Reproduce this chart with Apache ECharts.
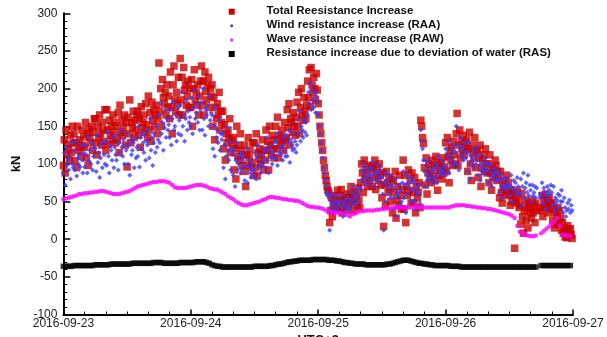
<!DOCTYPE html>
<html>
<head>
<meta charset="utf-8">
<script src="https://cdn.jsdelivr.net/npm/echarts@6/dist/echarts.min.js"></script>
<style>
  html, body { margin: 0; padding: 0; background: #fff; }
  #chart { width: 607px; height: 337px; }
</style>
</head>
<body>
<div id="chart"></div>
<script>
// Time axis runs in hours from 2016-09-23 00:00 (UTC+9), one label per day.
const dayLabels = ['2016-09-23', '2016-09-24', '2016-09-25', '2016-09-26', '2016-09-27'];
const seriesNames = [
  'Total Reesistance Increase',
  'Wind resistance increase (RAA)',
  'Wave resistance increase (RAW)',
  'Resistance increase due to deviation of water (RAS)'
];

// Sampling interval of each record, in hours.
const totalStep = 1 / 6;
const windStep = 1 / 6;
const waveStep = 0.5;
const driftStep = 0.5;

// Total resistance increase, kN (10-minute records, 12 per row = 2 hours, null = no record)
const totalRes = [
  98, 132, 88, 145, 112, 126, 120, 105, 138, 115, 150, 128,
  140, 104, 128, 95, 150, 118, 132, 122, 110, 145, 125, 136,
  122, 155, 108, 140, 98, 146, 135, 128, 150, 118, 142, 160,
  160, 128, 112, 150, 135, 165, 140, 125, 155, 145, 130, 172,
  118, 172, 145, 126, 158, 138, 150, 132, 165, 142, 155, 128,
  150, 132, 168, 115, 178, 142, 158, 138, 148, 165, 125, 155,
  96, 162, 140, 185, 128, 155, 148, 170, 135, 158, 145, 165,
  170, 138, 160, 122, 176, 148, 155, 165, 142, 180, 152, 135,
  190, 145, 168, 130, 182, 158, 172, 150, 165, 178, 140, 160,
  234, 170, 200, 150, 212, 188, 180, 195, 165, 205, 175, 190,
  160, 222, 176, 140, 205, 230, 185, 170, 195, 180, 215, 165,
  240, 185, 215, 165, 228, 198, 205, 178, 190, 210, 175, 200,
  175, 212, 150, 200, 225, 185, 195, 178, 205, 165, 190, 210,
  230, 178, 210, 165, 222, 196, 185, 205, 215, 175, 200, 190,
  205, 150, 188, 132, 175, 160, 180, 165, 195, 145, 170, 155,
  170, 120, 152, 105, 140, 128, 145, 135, 160, 115, 132, 125,
  135, 92, 120, 80, 150, 110, 125, 105, 140, 118, 98, 112,
  90, 125, 70, 112, 98, 135, 108, 118, 95, 102, 128, 85,
  128, 95, 140, 84, 115, 106, 120, 100, 112, 132, 92, 118,
  105, 145, 118, 130, 92, 150, 125, 112, 138, 120, 108, 132,
  150, 120, 162, 108, 138, 125, 135, 145, 128, 118, 155, 132,
  135, 172, 148, 180, 125, 160, 155, 142, 168, 150, 138, 162,
  182, 150, 195, 140, 175, 200, 165, 158, 188, 170, 160, 178,
  210, 188, 225, 176, 228, 205, 195, 215, 200, 185, 220, 198,
  180, 165, 150, 140, 128, 118, 105, 95, 85, 78, 70, 65,
  62, 22, 38, 55, 30, 48, 58, 45, 52, 40, 65, 50,
  40, 58, 66, 35, 52, 44, 48, 55, 38, 60, 45, 52,
  60, 70, 48, 55, 38, 62, 50, 58, 45, 68, 52, 42,
  75, 100, 88, 62, 105, 80, 92, 85, 70, 98, 78, 95,
  92, 70, 98, 82, 105, 66, 88, 95, 78, 100, 85, 72,
  55, 88, 17, 72, 45, 90, 75, 62, 82, 68, 50, 80,
  35, 78, 62, 90, 28, 52, 70, 45, 85, 58, 40, 66,
  105, 40, 85, 22, 70, 58, 92, 65, 78, 48, 88, 62,
  48, 82, 35, 70, 55, 62, 75, 42, 158, 150, 135, 127,
  95, 72, 108, 60, 88, 100, 82, 92, 75, 105, 85, 98,
  78, 110, 95, 65, 102, 85, 92, 100, 80, 108, 88, 96,
  128, 90, 135, 110, 75, 118, 105, 122, 98, 130, 112, 100,
  140, 167, 98, 125, 145, 108, 130, 118, 138, 112, 128, 122,
  132, 90, 120, 142, 100, 78, 115, 125, 108, 135, 95, 118,
  118, 82, 108, 125, 70, 95, 105, 112, 90, 120, 100, 88,
  100, 75, 112, 88, 65, 95, 92, 82, 105, 98, 78, 90,
  82, 55, 90, 62, 48, 72, 68, 78, 58, 85, 65, 75,
  60, 45, 66, 50, 58, 62, -12, 52, 48, 65, 55, 42,
  45, 20, 61, 30, 8, 38, 52, 25, 42, 15, 48, 35,
  40, 28, 52, 35, 45, 22, 48, 38, null, null, null, 42,
  38, 58, 30, 50, 42, 60, 45, 52, 35, 55, 40, 48,
  48, 25, 40, 15, 35, 20, 30, 42, 22, 38, 28, 12,
  22, 8, 15, 3, 10, 2, 18, 12, 5, 14, 6, 1
];

// Wind resistance increase (RAA), kN (10-minute records, 12 per row = 2 hours)
const windRes = [
  88, 115, 72, 122, 98, 105, 92, 110, 80, 128, 100, 95,
  118, 92, 130, 84, 108, 100, 112, 96, 125, 105, 88, 115,
  96, 125, 112, 88, 135, 104, 118, 100, 128, 92, 110, 122,
  120, 90, 138, 102, 115, 82, 108, 125, 95, 130, 112, 100,
  130, 98, 142, 110, 88, 125, 118, 105, 135, 95, 122, 112,
  105, 138, 92, 128, 115, 145, 122, 110, 132, 100, 125, 118,
  140, 100, 125, 85, 132, 112, 118, 128, 95, 135, 108, 122,
  110, 150, 96, 135, 120, 142, 128, 115, 138, 105, 130, 125,
  145, 108, 160, 118, 135, 98, 128, 140, 115, 150, 122, 132,
  165, 128, 180, 140, 155, 118, 148, 170, 135, 160, 145, 152,
  135, 172, 125, 160, 182, 145, 150, 165, 130, 175, 140, 158,
  178, 138, 195, 150, 165, 130, 160, 185, 145, 170, 155, 162,
  150, 188, 140, 175, 198, 160, 168, 180, 155, 190, 145, 172,
  182, 145, 200, 160, 138, 172, 165, 178, 150, 190, 158, 168,
  165, 120, 150, 110, 175, 135, 145, 128, 158, 118, 140, 132,
  140, 95, 125, 80, 110, 148, 118, 105, 130, 92, 120, 112,
  85, 118, 70, 105, 128, 92, 100, 110, 88, 115, 95, 105,
  110, 78, 98, 120, 75, 88, 95, 105, 82, 100, 92, 85,
  92, 115, 80, 108, 125, 95, 100, 88, 112, 98, 105, 118,
  120, 95, 135, 105, 88, 118, 110, 125, 100, 115, 108, 130,
  108, 130, 98, 140, 115, 122, 112, 125, 105, 135, 118, 110,
  138, 110, 128, 145, 102, 132, 125, 118, 140, 120, 130, 115,
  125, 158, 140, 170, 130, 150, 145, 135, 160, 142, 155, 138,
  165, 195, 180, 208, 172, 200, 185, 175, 195, 168, 190, 182,
  165, 150, 140, 128, 118, 108, 95, 88, 78, 70, 62, 58,
  55, 12, 42, 60, 48, 38, 52, 45, 58, 40, 50, 46,
  50, 35, 58, 42, 30, 48, 45, 52, 38, 55, 42, 48,
  40, 62, 52, 70, 45, 58, 55, 48, 65, 50, 60, 68,
  68, 92, 80, 100, 75, 88, 82, 95, 72, 90, 85, 78,
  95, 78, 102, 85, 70, 90, 88, 80, 98, 75, 92, 84,
  82, 60, 12, 75, 50, 88, 70, 78, 62, 85, 55, 72,
  68, 40, 55, 80, 30, 62, 58, 72, 45, 65, 50, 75,
  90, 55, 72, 35, 85, 60, 75, 68, 82, 50, 78, 65,
  50, 75, 40, 68, 58, 62, 72, 48, 145, 130, 120, 105,
  90, 70, 98, 78, 85, 105, 82, 92, 75, 88, 95, 80,
  82, 100, 75, 95, 110, 88, 92, 85, 105, 90, 98, 86,
  120, 95, 112, 130, 88, 105, 110, 118, 98, 125, 102, 115,
  150, 100, 125, 92, 118, 135, 110, 122, 105, 128, 115, 108,
  115, 90, 128, 100, 80, 110, 105, 118, 95, 112, 100, 122,
  105, 85, 112, 78, 98, 90, 95, 102, 88, 108, 92, 100,
  92, 75, 100, 82, 70, 88, 85, 95, 78, 90, 80, 88,
  78, 62, 85, 70, 55, 80, 72, 68, 82, 65, 75, 70,
  72, 58, 85, 50, 68, 78, 65, 75, 60, 82, 70, 62,
  60, 80, 45, 70, 88, 55, 68, 75, 62, 85, 58, 72,
  65, 50, 72, 58, 62, 70, 55, 68, null, null, null, 60,
  55, 75, 48, 68, 62, 40, 58, 70, 52, 65, 60, 72,
  62, 45, 70, 38, 55, 48, 52, 60, 42, 58, 50, 65,
  50, 35, 55, 42, 30, 38, 48, 40, 52, 35, 45, 38
];

// Wave resistance increase (RAW), kN (30-minute records)
const waveRes = [
  53, 54, 55, 56, 57, 58, 60, 60, 61, 61, 62, 62, 63, 63, 64, 64,
  63, 62, 61, 60, 60, 60, 61, 62, 63, 64, 66, 68, 70, 71, 72, 73,
  74, 75, 76, 76, 77, 77, 77, 76, 75, 72, 69, 68, 68, 68, 68, 69,
  70, 71, 72, 72, 72, 71, 70, 68, 67, 66, 66, 64, 62, 60, 57, 55,
  53, 50, 48, 46, 45, 45, 46, 47, 48, 49, 50, 52, 53, 55, 56, 56,
  55, 55, 54, 53, 53, 52, 52, 51, 51, 50, 48, 46, 44, 43, 43, 42,
  42, 41, 40, 38, 36, 35, 35, 35, 35, 34, 34, 32, 30, 33, 34, 36,
  37, 37, 38, 38, 38, 38, 39, 39, 40, 40, 41, 41, 42, 42, 42, 42,
  42, 42, 42, 42, 43, 43, 42, 42, 42, 42, 42, 42, 42, 42, 42, 42,
  42, 42, 43, 44, 45, 45, 45, 45, 44, 44, 43, 43, 42, 42, 41, 41,
  40, 40, 39, 38, 37, 36, 35, 34, 33, 31, 28, 18, 10, 8, 6, 5,
  4, 4, 5, null, 8, 11, 14, 17, 20, 24, 28, 18, 6, 5, 5, 4
];

// Resistance increase due to deviation of water (RAS), kN (30-minute records)
const driftRes = [
  -36, -36, -36, -36, -35, -35, -35, -35, -35, -35, -35, -35, -34, -34, -34, -34,
  -34, -34, -33, -33, -33, -33, -33, -33, -33, -33, -32, -32, -32, -32, -32, -32,
  -32, -32, -31, -31, -31, -31, -32, -32, -32, -32, -32, -32, -31, -31, -31, -31,
  -31, -31, -30, -30, -30, -30, -31, -32, -34, -35, -36, -36, -37, -37, -37, -37,
  -37, -37, -37, -37, -37, -37, -37, -37, -36, -36, -36, -36, -36, -36, -35, -35,
  -34, -33, -33, -32, -31, -30, -30, -29, -29, -28, -28, -28, -28, -28, -27, -27,
  -27, -27, -27, -27, -28, -28, -28, -29, -29, -30, -31, -31, -32, -32, -33, -33,
  -33, -33, -34, -34, -34, -34, -34, -34, -34, -34, -33, -33, -32, -31, -30, -29,
  -28, -28, -28, -29, -30, -31, -32, -32, -33, -33, -34, -34, -35, -35, -35, -35,
  -35, -35, -36, -36, -36, -36, -37, -37, -37, -37, -37, -37, -37, -37, -37, -37,
  -37, -37, -37, -37, -37, -37, -37, -37, -37, -37, -37, -37, -37, -37, -37, -37,
  -37, -37, -37, null, -35, -35, -35, -35, -35, -35, -35, -35, -35, -35, -35, -35
];

// Pair each record with its time in hours, dropping missing records.
function toPoints(values, step) {
  const pts = [];
  values.forEach(function (v, i) {
    if (v !== null) pts.push([i * step, v]);
  });
  return pts;
}

const colors = ['#cc0000', '#3a3aff', '#ff00ff', '#000000'];
const fontFamily = '"Liberation Sans", Arial, sans-serif';

const chart = echarts.init(document.getElementById('chart'), null, { renderer: 'canvas' });

// Hand-placed legend: marker column plus label column.
const legendRows = [
  { shape: 'rect', size: 6 },
  { shape: 'circle', size: 3 },
  { shape: 'circle', size: 3 },
  { shape: 'rect', size: 6 }
];
const legendGraphics = [];
seriesNames.forEach(function (name, i) {
  const cy = 11.7 + i * 14.1;
  const row = legendRows[i];
  if (row.shape === 'rect') {
    legendGraphics.push({
      type: 'rect', left: 231.7 - row.size / 2, top: cy - row.size / 2,
      shape: { width: row.size, height: row.size },
      style: { fill: colors[i] }
    });
  } else {
    legendGraphics.push({
      type: 'circle', left: 231.7 - row.size / 2, top: cy - row.size / 2,
      shape: { r: row.size / 2 },
      style: { fill: colors[i] }
    });
  }
  legendGraphics.push({
    type: 'text', left: 266.5, top: cy - 7,
    style: {
      text: name, fill: '#111',
      font: 'bold 11.5px ' + fontFamily
    }
  });
});

const labelFont = { fontFamily: fontFamily, fontSize: 12, color: '#222' };
const nameFont = { fontFamily: fontFamily, fontSize: 13, fontWeight: 'bold', color: '#111' };

chart.setOption({
  animation: false,
  backgroundColor: '#fff',
  grid: {
    left: 63.4, right: 34, top: 13.3, bottom: 22.5,
    containLabel: false, outerBoundsMode: 'none'
  },
  graphic: legendGraphics,
  xAxis: {
    type: 'value',
    min: 0, max: 96, interval: 24,
    name: 'UTC+9',
    nameLocation: 'middle',
    nameGap: 15,
    nameTextStyle: nameFont,
    axisLine: { show: true, onZero: false, lineStyle: { color: '#000', width: 2 } },
    axisTick: { show: true, inside: true, length: 5, lineStyle: { color: '#000', width: 1.5 } },
    minorTick: { show: true, splitNumber: 6, length: 3, lineStyle: { color: '#000', width: 1 } },
    axisLabel: Object.assign({ margin: 3, formatter: function (v) { return dayLabels[Math.round(v / 24)]; } }, labelFont),
    splitLine: { show: false }
  },
  yAxis: {
    type: 'value',
    min: -100, max: 300, interval: 50,
    name: 'kN',
    nameLocation: 'middle',
    nameGap: 40,
    nameTextStyle: nameFont,
    axisLine: { show: true, onZero: false, lineStyle: { color: '#000', width: 2 } },
    axisTick: { show: true, inside: true, length: 7, lineStyle: { color: '#000', width: 1.5 } },
    minorTick: { show: true, splitNumber: 5, length: 4, lineStyle: { color: '#000', width: 1 } },
    axisLabel: Object.assign({ margin: 6 }, labelFont),
    splitLine: { show: false }
  },
  series: [
    {
      name: seriesNames[0], type: 'scatter', symbol: 'rect', symbolSize: 7.5,
      itemStyle: { color: colors[0] }, z: 2,
      data: toPoints(totalRes, totalStep)
    },
    {
      name: seriesNames[1], type: 'scatter', symbol: 'diamond', symbolSize: 5,
      itemStyle: { color: colors[1] }, z: 3,
      data: toPoints(windRes, windStep)
    },
    {
      name: seriesNames[2], type: 'scatter', symbol: 'circle', symbolSize: 4.5,
      itemStyle: { color: colors[2] }, z: 4,
      data: toPoints(waveRes, waveStep)
    },
    {
      name: seriesNames[3], type: 'scatter', symbol: 'rect', symbolSize: 5.5,
      itemStyle: { color: colors[3] }, z: 5,
      data: toPoints(driftRes, driftStep)
    }
  ]
});
</script>
</body>
</html>
